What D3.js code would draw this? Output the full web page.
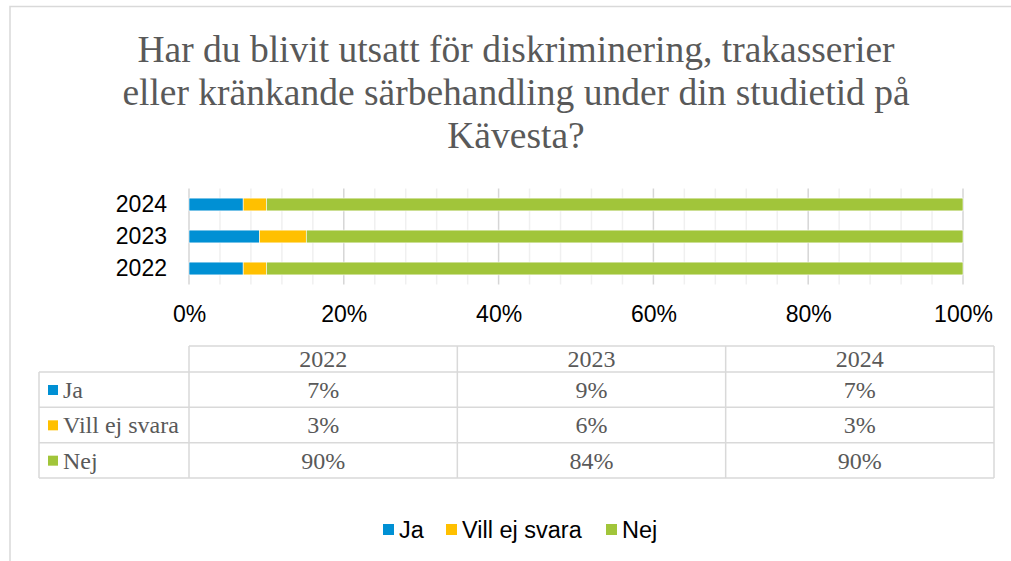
<!DOCTYPE html>
<html>
<head>
<meta charset="utf-8">
<script src="https://cdn.jsdelivr.net/npm/d3@7"></script>
<style>
body { margin: 0; background: #fff; }
svg { display: block; }
</style>
</head>
<body>
<svg width="1011" height="561"></svg>
<script>
// data
var years = ["2022", "2023", "2024"];
var series = ["Ja", "Vill ej svara", "Nej"];
var ja = [7, 9, 7];
var villEj = [3, 6, 3];
var nej = [90, 84, 90];
var xTicks = [0, 0.2, 0.4, 0.6, 0.8, 1];
var colors = ["#0090d4", "#ffc000", "#a1c53a"];
var titleLines = ["Har du blivit utsatt för diskriminering, trakasserier",
                  "eller kränkande särbehandling under din studietid på",
                  "Kävesta?"];

var rows = years.map(function(y, i) {
  return { year: y, "Ja": ja[i], "Vill ej svara": villEj[i], "Nej": nej[i] };
});
var seriesVals = [ja, villEj, nej];

var svg = d3.select("svg");
var grid = "#d9d9d9";

// outer frame (top + left edges only visible)
svg.append("path")
  .attr("d", "M10,561V6.5H1011")
  .attr("fill", "none")
  .attr("stroke", grid)
  .attr("stroke-width", 1.5);

// title
svg.append("text")
  .attr("text-anchor", "middle")
  .attr("font-family", "Liberation Serif, Times New Roman, serif")
  .attr("font-size", 37.5)
  .attr("fill", "#595959")
  .selectAll("tspan")
  .data(titleLines)
  .enter().append("tspan")
    .attr("x", 516)
    .attr("y", function(d, i) { return 62 + i * 43; })
    .text(function(d) { return d; });

// scales
var x = d3.scaleLinear().domain([0, 1]).range([189, 963]);
var y = d3.scaleBand().domain(years.slice().reverse()).range([188.5, 284.5]).paddingInner(0.6).paddingOuter(0.3);

// gridlines: minor every 4%, major every 20%
var minor = d3.range(0, 1.0001, 0.04);
svg.append("g").selectAll("line")
  .data(minor)
  .enter().append("line")
    .attr("x1", function(d) { return x(d); })
    .attr("x2", function(d) { return x(d); })
    .attr("y1", 188.5).attr("y2", 284.5)
    .attr("stroke", function(d) { return Math.abs(d * 5 - Math.round(d * 5)) < 1e-6 ? "#d6d6d6" : "#f0f0f0"; })
    .attr("stroke-width", 1.5);

// stacked bars
var stack = d3.stack().keys(series).offset(d3.stackOffsetExpand);
var stacked = stack(rows);

svg.append("g").selectAll("g")
  .data(stacked)
  .enter().append("g")
    .attr("fill", function(d, i) { return colors[i]; })
  .selectAll("rect")
  .data(function(d) { return d; })
  .enter().append("rect")
    .attr("x", function(d) { return x(d[0]); })
    .attr("width", function(d) { return x(d[1]) - x(d[0]); })
    .attr("y", function(d) { return y(d.data.year); })
    .attr("height", y.bandwidth())
    .attr("stroke", "#fff")
    .attr("stroke-width", 0.6);

// axes
var xAxis = svg.append("g")
  .attr("transform", "translate(0,303)")
  .call(d3.axisBottom(x).tickValues(xTicks).tickFormat(d3.format(".0%")).tickSize(0));
xAxis.select(".domain").remove();
xAxis.selectAll("text")
  .attr("font-family", "Liberation Sans, Arial, sans-serif")
  .attr("font-size", 23)
  .attr("fill", "#000")
  .attr("dy", "0.71em");

var yAxis = svg.append("g")
  .attr("transform", "translate(189,0)")
  .call(d3.axisLeft(y).tickSize(0).tickPadding(22));
yAxis.select(".domain").remove();
yAxis.selectAll("text")
  .attr("font-family", "Liberation Sans, Arial, sans-serif")
  .attr("font-size", 23)
  .attr("fill", "#000");

// data table
var colX = d3.scaleBand().domain(years).range([189, 994]);
var rowY = d3.scaleBand().domain(series).range([372, 478]);
var tbl = svg.append("g")
  .attr("font-family", "Liberation Serif, Times New Roman, serif")
  .attr("font-size", 24)
  .attr("fill", "#595959");
var lineStyle = function(sel) { sel.attr("stroke", grid).attr("stroke-width", 1.5); };

// horizontal lines
tbl.append("line").attr("x1", 189).attr("x2", 994).attr("y1", 346).attr("y2", 346).call(lineStyle);
tbl.selectAll("line.h")
  .data([372].concat(series.map(function(s) { return rowY(s) + rowY.bandwidth(); })))
  .enter().append("line").attr("class", "h")
    .attr("x1", 39).attr("x2", 994)
    .attr("y1", function(d) { return d; }).attr("y2", function(d) { return d; })
    .call(lineStyle);
// vertical lines
tbl.append("line").attr("x1", 39).attr("x2", 39).attr("y1", 372).attr("y2", 478).call(lineStyle);
tbl.selectAll("line.v")
  .data(years.map(function(yr) { return colX(yr); }).concat([994]))
  .enter().append("line").attr("class", "v")
    .attr("x1", function(d) { return d; }).attr("x2", function(d) { return d; })
    .attr("y1", 346).attr("y2", 478)
    .call(lineStyle);

// header
tbl.selectAll("text.hd")
  .data(years)
  .enter().append("text").attr("class", "hd")
    .attr("x", function(d) { return colX(d) + colX.bandwidth() / 2; })
    .attr("y", 367)
    .attr("text-anchor", "middle")
    .text(function(d) { return d; });

// row labels with keys
var rowG = tbl.selectAll("g.row")
  .data(series)
  .enter().append("g").attr("class", "row")
    .attr("transform", function(d) { return "translate(0," + rowY(d) + ")"; });
rowG.append("rect")
  .attr("x", 48).attr("y", 13).attr("width", 10).attr("height", 10)
  .attr("fill", function(d, i) { return colors[i]; });
rowG.append("text")
  .attr("x", 63).attr("y", 26)
  .text(function(d) { return d; });
rowG.selectAll("text.val")
  .data(function(d, i) { return seriesVals[i].map(function(v, j) { return { v: v, yr: years[j] }; }); })
  .enter().append("text").attr("class", "val")
    .attr("x", function(d) { return colX(d.yr) + colX.bandwidth() / 2; })
    .attr("y", 26)
    .attr("text-anchor", "middle")
    .text(function(d) { return d.v + "%"; });

// legend
var legendX = [383, 446, 606];
var leg = svg.append("g")
  .attr("font-family", "Liberation Sans, Arial, sans-serif")
  .attr("font-size", 23.5)
  .selectAll("g")
  .data(series)
  .enter().append("g")
    .attr("transform", function(d, i) { return "translate(" + legendX[i] + ",0)"; });
leg.append("rect")
  .attr("x", 0).attr("y", 524).attr("width", 11).attr("height", 11)
  .attr("fill", function(d, i) { return colors[i]; });
leg.append("text")
  .attr("x", 16).attr("y", 538)
  .attr("fill", "#000")
  .text(function(d) { return d; });
</script>
</body>
</html>
